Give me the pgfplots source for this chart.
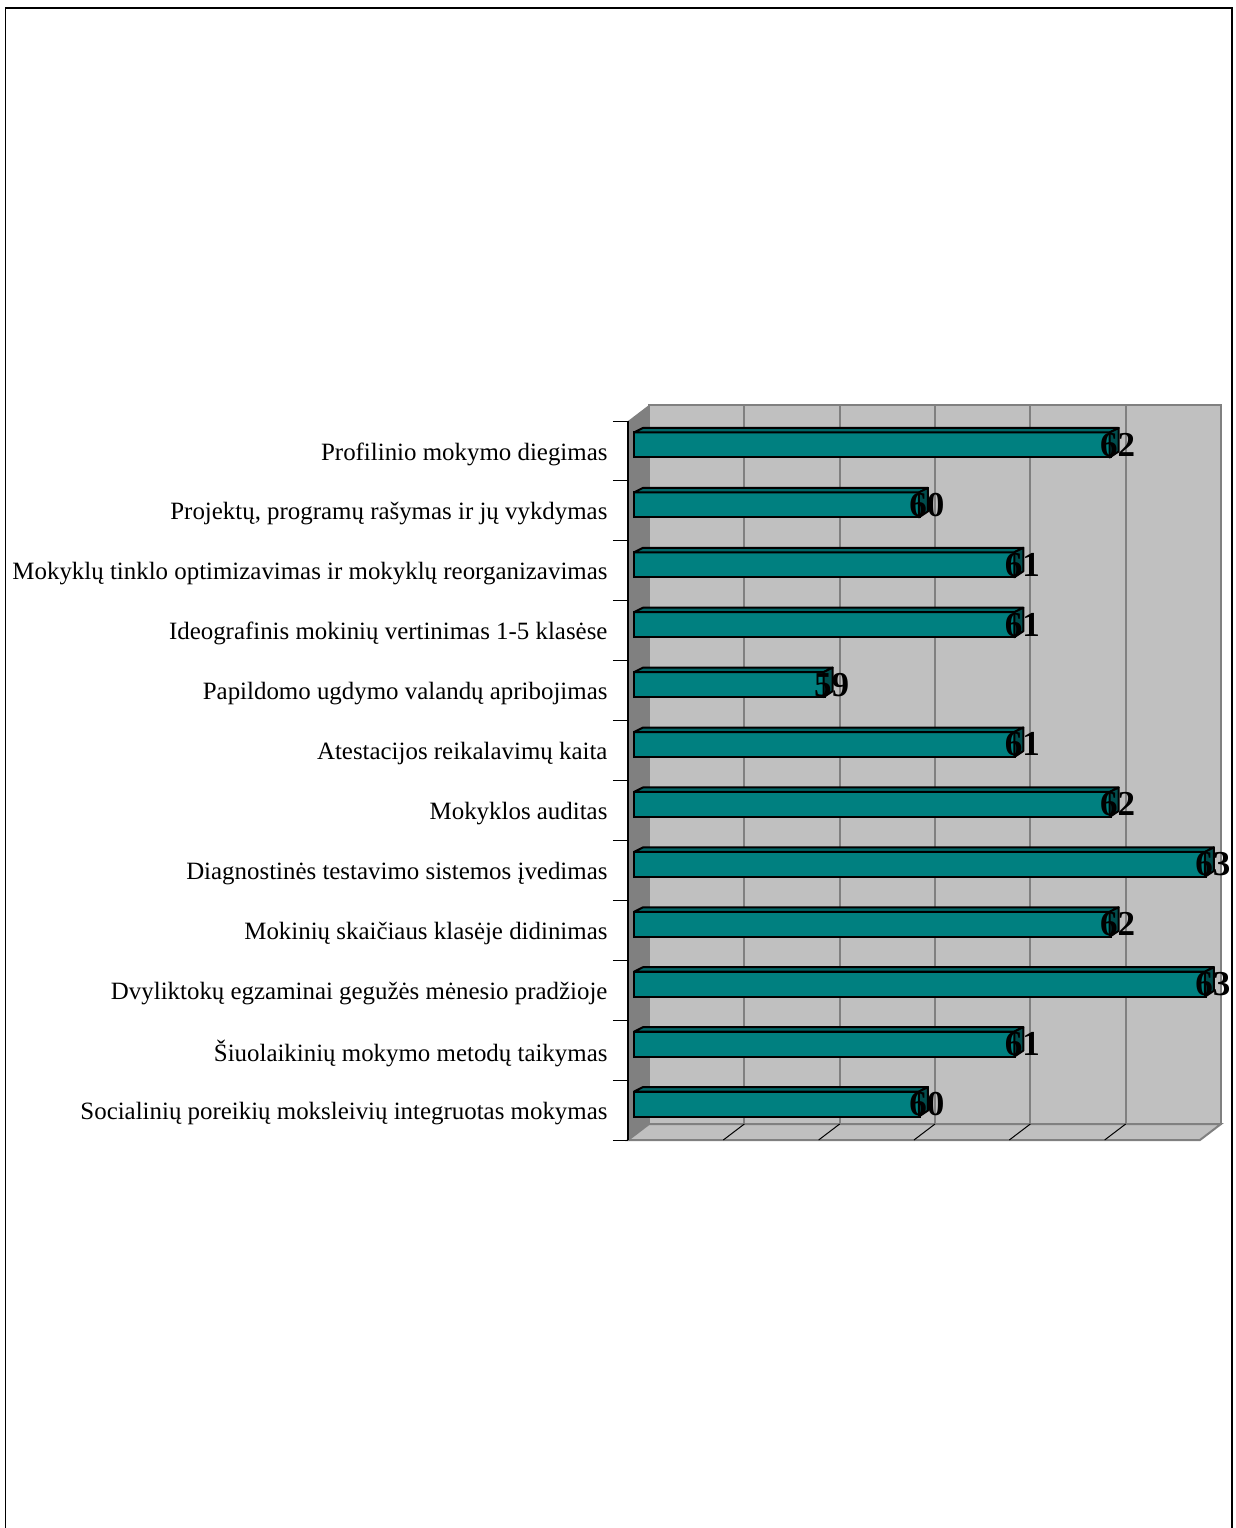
\documentclass[border=0pt]{standalone}
\usepackage{fontspec}
\setmainfont{Liberation Serif}
\usepackage{pgfplots}
\usepackage{pgfplotstable}
\pgfplotsset{compat=1.18}
\definecolor{barfront}{RGB}{0,128,128}
\definecolor{bartop}{RGB}{0,102,102}
\definecolor{barside}{RGB}{0,77,77}
\definecolor{wall}{RGB}{192,192,192}
\definecolor{wallside}{RGB}{128,128,128}

% value per row, top row first
\pgfplotstableread{
i v
0 62
1 60
2 61
3 61
4 59
5 61
6 62
7 63
8 62
9 63
10 61
11 60
}\bars

% sides of the 3D bar, \len comes from visualization depends on
\pgfdeclareplotmark{depth}{%
  \filldraw[draw=black,line width=2pt,fill=bartop,line join=round]
    (-1pt,12.5pt) -- (8pt,17pt) -- ({-\len*95.33pt+9pt},17pt) -- ({-\len*95.33pt},12.5pt) -- cycle;
  \filldraw[draw=black,line width=2pt,fill=barside,line join=round]
    (-1pt,12.5pt) -- (8pt,17pt) -- (8pt,-6.5pt) -- (-1pt,-12.5pt) -- cycle;
}

\begin{document}
\begin{tikzpicture}
\path[use as bounding box] (-628pt,-388pt) rectangle (607pt,1140pt);
\draw[black,line width=1.2pt] (-622.5pt,-390pt) -- (-622.5pt,1132pt) -- (604pt,1132pt) -- (604pt,-390pt);
\begin{axis}[
    scale only axis,
    width=572pt,
    height=719pt,
    xmin=0, xmax=6,
    ymin=-0.5, ymax=11.5,
    y dir=reverse,
    clip=false,
    axis on top,
    axis x line=none,
    axis y line=left,
    axis line style={-,black,line width=1.5pt},
    xtick=\empty,
    ytick={0,...,11},
    yticklabels={
      Profilinio mokymo diegimas,
      {Projektų, programų rašymas ir jų vykdymas},
      Mokyklų tinklo optimizavimas ir mokyklų reorganizavimas,
      Ideografinis mokinių vertinimas 1-5 klasėse,
      Papildomo ugdymo valandų apribojimas,
      Atestacijos reikalavimų kaita,
      Mokyklos auditas,
      Diagnostinės testavimo sistemos įvedimas,
      Mokinių skaičiaus klasėje didinimas,
      Dvyliktokų egzaminai gegužės mėnesio pradžioje,
      Šiuolaikinių mokymo metodų taikymas,
      Socialinių poreikių moksleivių integruotas mokymas},
    minor ytick={-0.5,0.5,...,11.5},
    major tick length=0pt,
    minor tick length=15pt,
    tick align=outside,
    minor tick style={black,line width=1pt},
    yticklabel style={font=\fontsize{24.9}{30}\selectfont,xshift=-17pt,yshift=-3pt,anchor=east},
]
% walls and floor
\fill[wallside] (axis cs:0,-0.5) -- ([shift={(21pt,16pt)}]axis cs:0,-0.5) -- ([shift={(21pt,16pt)}]axis cs:0,11.5) -- (axis cs:0,11.5) -- cycle;
\filldraw[fill=wall,draw=wallside,line width=2pt] ([shift={(21pt,16pt)}]axis cs:0,-0.5) -- ([shift={(21pt,16pt)}]axis cs:6,-0.5) -- ([shift={(21pt,16pt)}]axis cs:6,11.5) -- ([shift={(21pt,16pt)}]axis cs:0,11.5) -- cycle;
\filldraw[fill=wall,draw=wallside,line width=2pt] (axis cs:0,11.5) -- ([shift={(21pt,16pt)}]axis cs:0,11.5) -- ([shift={(21pt,16pt)}]axis cs:6,11.5) -- (axis cs:6,11.5) -- cycle;
\pgfplotsinvokeforeach{1,...,5}{
  \draw[wallside,line width=2pt] ([shift={(21pt,16pt)}]axis cs:#1,-0.5) -- ([shift={(21pt,16pt)}]axis cs:#1,11.5);
  \draw[black,line width=1pt] ([shift={(21pt,16pt)}]axis cs:#1,11.5) -- (axis cs:#1,11.5);
}
% top and end faces
\addplot[only marks,scatter,mark=depth,xshift=6pt,yshift=6pt,
    scatter/use mapped color={draw=black,fill=black},
    visualization depends on={\thisrow{v}-57 \as \len}]
    table[x expr=\thisrow{v}-57,y=i] {\bars};
% front faces, bars start at 57
\addplot[xbar,bar width=25pt,bar shift=0pt,fill=barfront,draw=black,line width=2pt,xshift=6pt,yshift=6pt,
    point meta=\thisrow{v},
    nodes near coords,
    nodes near coords style={font=\fontsize{35}{35}\selectfont\bfseries,anchor=center,xshift=7pt,text=black,
      /pgf/number format/assume math mode=true,/pgf/number format/fixed,/pgf/number format/precision=0}]
    table[x expr=\thisrow{v}-57,y=i] {\bars};
\end{axis}
\end{tikzpicture}
\end{document}
